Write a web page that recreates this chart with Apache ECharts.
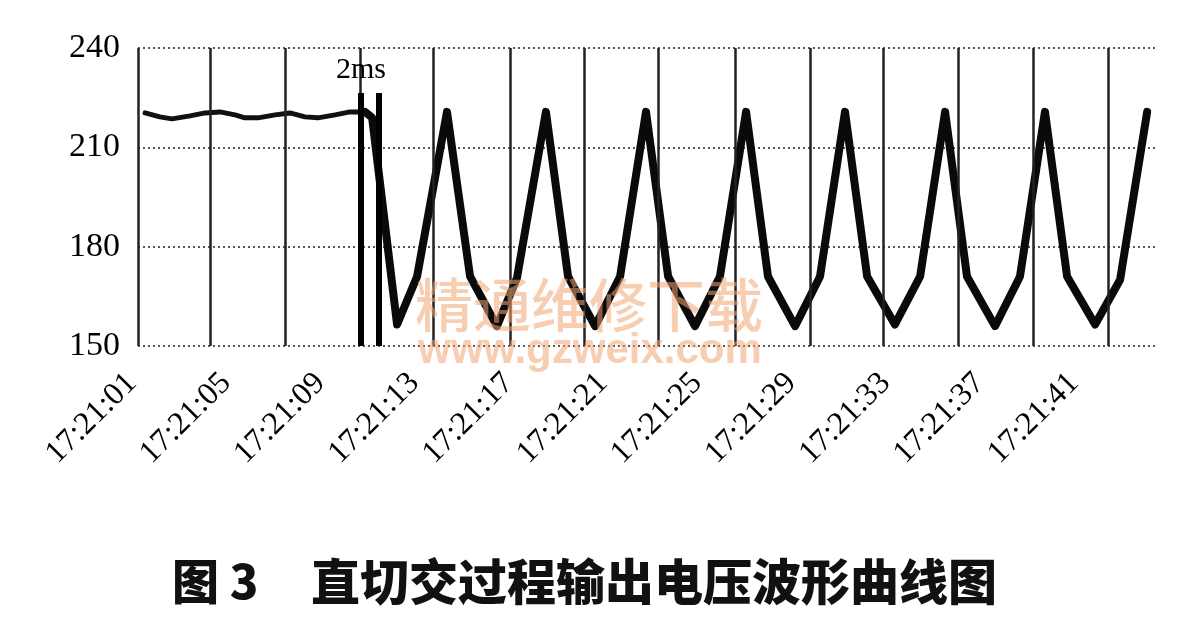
<!DOCTYPE html>
<html>
<head>
<meta charset="utf-8">
<script src="https://cdn.jsdelivr.net/npm/echarts@6/dist/echarts.min.js"></script>
<style>
  html, body { margin: 0; padding: 0; background: #fff; }
  #chart { width: 1181px; height: 642px; }
</style>
</head>
<body>
<div id="chart"></div>
<script>
// Time: seconds after 17:21:01; voltage in V
const xTickLabels = ['17:21:01','17:21:05','17:21:09','17:21:13','17:21:17','17:21:21','17:21:25','17:21:29','17:21:33','17:21:37','17:21:41'];
const xTickSeconds = [0, 4, 8, 12, 16, 20, 24, 28, 32, 36, 40];
const yTicks = [150, 180, 210, 240];

// steady DC-powered section (before switching)
const flatTime = [-0.04, 0.59, 1.10, 1.87, 2.51, 3.14, 3.78, 4.20, 4.76, 5.48, 6.11, 6.75, 7.30, 8.03, 8.66, 9.30];
const flatVolt = [220.4, 219.2, 218.6, 219.5, 220.4, 220.7, 219.8, 218.9, 218.9, 219.8, 220.4, 219.2, 218.9, 219.8, 220.7, 220.7];

// after switching to AC
const waveTime = [9.30, 9.60, 10.66, 11.51, 12.78, 13.76, 14.90, 15.75, 16.98, 17.92, 19.07, 20.13, 21.23, 22.17, 23.31, 24.37, 25.48, 26.41, 27.56, 28.62, 29.68, 30.62, 31.80, 32.87, 33.93, 34.86, 36.05, 37.11, 38.17, 39.11, 40.30, 41.36, 42.51];
const waveVolt = [220.7, 219.0, 156.5, 171, 220.7, 171, 156, 170.5, 220.7, 171, 156, 171, 220.7, 171, 156, 171, 220.7, 171, 156, 171, 220.7, 171, 156.5, 171, 220.7, 171, 156, 171, 220.7, 171, 156.5, 170, 220.7];

// vertical grid lines (time positions)
const vGridTimes = [-0.34, 2.72, 5.90, 9.09, 12.19, 15.46, 18.60, 21.74, 25.01, 28.20, 31.29, 34.48, 37.66, 40.85];
// 2ms switching markers
const markerTimes = [9.13, 9.89];
const markerTop = 226.4;
const markerLabel = '2ms';

const xMin = -0.34, xMax = 42.97;

const chart = echarts.init(document.getElementById('chart'));
const serif = '"Liberation Serif", "Times New Roman", serif';

const flatData = flatTime.map((t, i) => [t, flatVolt[i]]);
const waveData = waveTime.map((t, i) => [t, waveVolt[i]]);

chart.setOption({
  animation: false,
  backgroundColor: '#fff',
  grid: { left: 138, top: 48, right: 23, bottom: 296, containLabel: false },
  xAxis: {
    type: 'value',
    min: xMin, max: xMax,
    axisLine: { show: false },
    axisTick: { show: false },
    splitLine: { show: false },
    axisLabel: {
      customValues: xTickSeconds,
      rotate: 45,
      margin: 18,
      padding: [0, 20, 0, 0],
      fontFamily: serif,
      fontSize: 32,
      color: '#000',
      formatter: v => xTickLabels[xTickSeconds.indexOf(Math.round(v))] || ''
    }
  },
  yAxis: {
    type: 'value',
    min: yTicks[0], max: yTicks[yTicks.length - 1], interval: 30,
    axisLine: { show: false },
    axisTick: { show: false },
    axisLabel: { fontFamily: serif, fontSize: 34, color: '#000', margin: 18 },
    splitLine: { show: true, lineStyle: { type: [2, 3], color: '#222', width: 1.5 } }
  },
  series: [
    {
      name: 'grid',
      type: 'line',
      data: flatData,
      symbol: 'none',
      silent: true,
      z: 2,
      lineStyle: { color: '#111', width: 5, join: 'round', cap: 'round' },
      markLine: {
        silent: true,
        symbol: 'none',
        label: { show: false },
        lineStyle: { color: '#222', width: 2.5, type: 'solid' },
        data: vGridTimes.map(t => ({ xAxis: t }))
      }
    },
    {
      name: 'wave',
      type: 'line',
      data: waveData,
      symbol: 'none',
      z: 3,
      lineStyle: { color: '#0a0a0a', width: 8, join: 'round', cap: 'round' },
      markLine: {
        silent: true,
        symbol: 'none',
        label: { show: false },
        lineStyle: { color: '#000', width: 6, type: 'solid' },
        data: markerTimes.map(t => [{ coord: [t, yTicks[0]] }, { coord: [t, markerTop] }])
      },
      markPoint: {
        symbol: 'circle',
        symbolSize: 1,
        itemStyle: { color: 'rgba(0,0,0,0)' },
        label: { show: true, position: 'inside', formatter: markerLabel, fontFamily: serif, fontSize: 30, color: '#000' },
        data: [{ coord: [markerTimes[0], 233.4] }]
      }
    }
  ],
  graphic: [
    { type: 'text', left: 172, top: 558, style: { text: '图 3', font: '900 47px "Noto Sans CJK SC"', fill: '#111' } },
    { type: 'text', left: 311, top: 557, style: { text: '直切交过程输出电压波形曲线图', font: '900 49px "Noto Sans CJK SC"', fill: '#111' } },
    { type: 'text', left: 415, top: 276, z: 100, style: { text: '精通维修下载', font: '500 58px "Noto Sans CJK SC"', fill: 'rgba(240,165,115,0.55)' } },
    { type: 'text', left: 418, top: 330, z: 100, style: { text: 'www.gzweix.com', font: 'bold 42px "Liberation Sans"', fill: 'rgba(240,165,115,0.55)' } }
  ]
});
</script>
</body>
</html>
